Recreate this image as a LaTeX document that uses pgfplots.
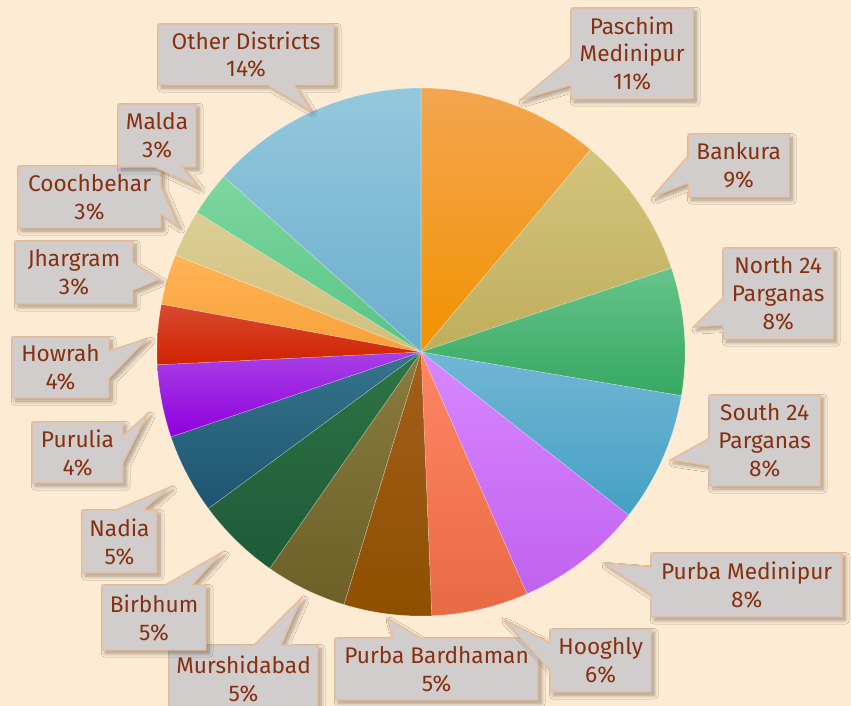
\documentclass[border=0pt]{standalone}
\usepackage{fontspec}
\setmainfont{Fira Sans}
\usepackage{pgfplots}
\pgfplotsset{compat=1.18}
\usetikzlibrary{shapes.callouts,shadows.blur}

\definecolor{bgcol}{HTML}{FDEBD4}
\definecolor{boxfill}{HTML}{D1CDCD}
\definecolor{boxline}{HTML}{EBBB96}
\definecolor{txtcol}{HTML}{86300F}
% slice colours: top / bottom of the gradient
\definecolor{c1t}{HTML}{F3A650}\definecolor{c1b}{HTML}{F29200}
\definecolor{c2t}{HTML}{D4C47C}\definecolor{c2b}{HTML}{BFAE5C}
\definecolor{c3t}{HTML}{66C48A}\definecolor{c3b}{HTML}{36A862}
\definecolor{c4t}{HTML}{72B6D4}\definecolor{c4b}{HTML}{44A0C4}
\definecolor{c5t}{HTML}{D887FF}\definecolor{c5b}{HTML}{C062EE}
\definecolor{c6t}{HTML}{FF8664}\definecolor{c6b}{HTML}{E86A44}
\definecolor{c7t}{HTML}{A45E1C}\definecolor{c7b}{HTML}{8E5000}
\definecolor{c8t}{HTML}{8A7C3E}\definecolor{c8b}{HTML}{6C6028}
\definecolor{c9t}{HTML}{2E7444}\definecolor{c9b}{HTML}{1E5A38}
\definecolor{c10t}{HTML}{36748C}\definecolor{c10b}{HTML}{1E5470}
\definecolor{c11t}{HTML}{A840E6}\definecolor{c11b}{HTML}{8E00DC}
\definecolor{c12t}{HTML}{D84A30}\definecolor{c12b}{HTML}{D02200}
\definecolor{c13t}{HTML}{FFB456}\definecolor{c13b}{HTML}{F8A03A}
\definecolor{c14t}{HTML}{DCCD94}\definecolor{c14b}{HTML}{D0C07C}
\definecolor{c15t}{HTML}{7ED69E}\definecolor{c15b}{HTML}{58C484}
\definecolor{c16t}{HTML}{94C8DC}\definecolor{c16b}{HTML}{6CAECE}

% #1 cumulative share before the slice, #2 share (%), #3 colour index
\newcommand{\slice}[3]{%
  \addplot[draw=white, draw opacity=0.35, line width=0.3pt,
    top color=c#3t, bottom color=c#3b,
    domain={90-3.6*(#1+#2)}:{90-3.6*#1}, samples=60, variable=\t]
    ({421+264*cos(\t)},{352-264*sin(\t)}) -- (421,352) -- cycle;
}

% #1,#2 box centre, #3,#4 box size, #5,#6 pointer tip, #7 text (pixels)
\newcommand{\lab}[7]{%
  \coordinate (tip) at (#5,#6);
  \node[lbl, minimum width=#3*0.02cm, minimum height=#4*0.02cm,
        callout absolute pointer={(tip)}] at (#1,#2) {#7};
}

\tikzset{lbl/.style={rectangle callout, fill=boxfill, draw=boxline,
  line width=0.7pt, text=txtcol, align=center, inner sep=0pt,
  callout pointer width=0.55cm,
  font=\fontsize{12.9}{15.9}\selectfont,
  blur shadow={shadow xshift=1.8pt, shadow yshift=-1.8pt,
               shadow blur radius=2.2pt, shadow blur steps=8,
               shadow opacity=35}}}

\begin{document}
\begin{tikzpicture}
\useasboundingbox (0,0) rectangle (17.02cm,14.12cm);
\fill[bgcol] (0,0) rectangle (17.02cm,14.12cm);
\begin{axis}[at={(0,0)}, anchor=south west,
    width=17.02cm, height=14.12cm, scale only axis,
    xmin=0, xmax=851, ymin=0, ymax=706, y dir=reverse,
    hide axis, clip=false]
\slice{0}{11.1}{1}      % Paschim Medinipur
\slice{11.1}{8.75}{2}   % Bankura
\slice{19.85}{7.8}{3}   % North 24 Parganas
\slice{27.65}{7.95}{4}  % South 24 Parganas
\slice{35.6}{7.83}{5}   % Purba Medinipur
\slice{43.43}{5.92}{6}  % Hooghly
\slice{49.35}{5.36}{7}  % Purba Bardhaman
\slice{54.71}{5.0}{8}   % Murshidabad
\slice{59.71}{5.19}{9}  % Birbhum
\slice{64.9}{4.89}{10}  % Nadia
\slice{69.79}{4.44}{11} % Purulia
\slice{74.23}{3.67}{12} % Howrah
\slice{77.9}{3.08}{13}  % Jhargram
\slice{80.98}{2.89}{14} % Coochbehar
\slice{83.87}{2.7}{15}  % Malda
\slice{86.57}{13.43}{16}% Other Districts
\end{axis}

\begin{scope}[x=0.02cm, y=-0.02cm, yshift=14.12cm]
\lab{632}{53.5}{122}{91}{520}{100}{Paschim\\Medinipur\\11\%}
\lab{738.5}{165.5}{101}{63}{652}{197}{Bankura\\9\%}
\lab{778}{293.5}{110}{91}{693}{327}{North 24\\Parganas\\8\%}
\lab{764.5}{440.5}{111}{91}{670}{460}{South 24\\Parganas\\8\%}
\lab{746.5}{585}{191}{64}{603}{563}{Purba Medinipur\\8\%}
\lab{436.5}{669}{203}{62}{387}{618}{Purba Bardhaman\\5\%}
\lab{600.5}{660.5}{101}{63}{503}{619}{Hooghly\\6\%}
\lab{243.5}{678.5}{149}{67}{302}{597}{Murshidabad\\5\%}
\lab{154}{617.5}{104}{65}{222}{552}{Birbhum\\5\%}
\lab{119.5}{541.5}{75}{63}{170}{487}{Nadia\\5\%}
\lab{77.5}{452.5}{91}{61}{148}{413}{Purulia\\4\%}
\lab{60.5}{367.5}{97}{61}{148}{338}{Howrah\\4\%}
\lab{74}{272.5}{118}{63}{160}{279}{Jhargram\\3\%}
\lab{89.5}{197}{143}{62}{178}{226}{Coochbehar\\3\%}
\lab{157}{135.5}{78}{63}{198}{187}{Malda\\3\%}
\lab{246}{54.5}{176}{61}{310}{110}{Other Districts\\14\%}
\end{scope}
\end{tikzpicture}
\end{document}
